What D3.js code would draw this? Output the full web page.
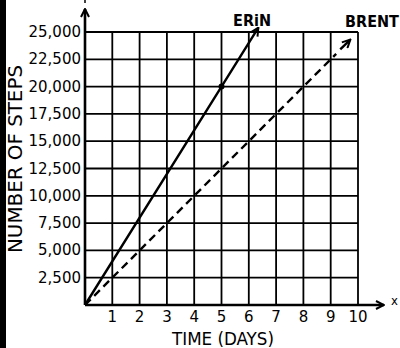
<!DOCTYPE html>
<html>
<head>
<meta charset="utf-8">
<script src="https://cdn.jsdelivr.net/npm/d3@7"></script>
<style>
  body { margin: 0; background: #fff; }
  text { font-family: "DejaVu Sans Condensed", "DejaVu Sans", sans-serif; fill: #000; }
  .num { font-family: "DejaVu Sans", sans-serif; }
</style>
</head>
<body>
<div id="chart"></div>
<script>
// data
var days = [1, 2, 3, 4, 5, 6, 7, 8, 9, 10];
var stepTicks = [2500, 5000, 7500, 10000, 12500, 15000, 17500, 20000, 22500, 25000];
var erin = [{x: 0, y: 0}, {x: 5, y: 20000}, {x: 6.35, y: 25400}];
var erinDots = [{x: 5, y: 20000}];
var brent = [{x: 0, y: 0}, {x: 9.2, y: 23000}];
var brentArrow = [{x: 9.35, y: 23400}, {x: 9.72, y: 24300}];

var width = 400, height = 348;
var margin = {top: 32, right: 42, bottom: 43, left: 85};

var svg = d3.select("#chart").append("svg")
    .attr("width", width)
    .attr("height", height);

// black strip on the left edge of the picture
svg.append("rect").attr("x", 0).attr("y", 0).attr("width", 6).attr("height", height).style("fill", "#000");

var x = d3.scaleLinear().domain([0, 10]).range([margin.left, width - margin.right]);
var y = d3.scaleLinear().domain([0, 25000]).range([height - margin.bottom, margin.top]);

// arrow head
svg.append("defs").append("marker")
    .attr("id", "arr")
    .attr("viewBox", "0 0 10 10")
    .attr("refX", 9).attr("refY", 5)
    .attr("markerWidth", 10).attr("markerHeight", 10)
    .attr("markerUnits", "userSpaceOnUse")
    .attr("orient", "auto")
  .append("path")
    .attr("d", "M1,1 L9,5 L1,9")
    .style("fill", "none").style("stroke", "#000").style("stroke-width", 2);

// grid
var g = svg.append("g");
g.selectAll(".vg").data(days).enter().append("line")
    .attr("x1", function(d) { return x(d); }).attr("x2", function(d) { return x(d); })
    .attr("y1", y(0)).attr("y2", y(25000))
    .style("stroke", "#000").style("stroke-width", 1.8);
g.selectAll(".hg").data(stepTicks).enter().append("line")
    .attr("x1", x(0)).attr("x2", x(10))
    .attr("y1", function(d) { return y(d); }).attr("y2", function(d) { return y(d); })
    .style("stroke", "#000").style("stroke-width", 1.8);

// axes with arrows
svg.append("line")
    .attr("x1", x(0)).attr("y1", y(0)).attr("x2", x(0)).attr("y2", 9)
    .style("stroke", "#000").style("stroke-width", 2.6)
    .attr("marker-end", "url(#arr)");
svg.append("line")
    .attr("x1", x(0)).attr("y1", y(0)).attr("x2", 384).attr("y2", y(0))
    .style("stroke", "#000").style("stroke-width", 2.6)
    .attr("marker-end", "url(#arr)");
svg.append("line")
    .attr("x1", x(0)).attr("y1", 0).attr("x2", x(0)).attr("y2", 3)
    .style("stroke", "#000").style("stroke-width", 1.5);
svg.append("text").attr("x", 391).attr("y", 305).style("font-size", "13px").text("x");

// tick labels
svg.selectAll(".yl").data(stepTicks).enter().append("text")
    .attr("class", "num")
    .attr("x", x(0) - 4)
    .attr("y", function(d) { return y(d) + 5; })
    .attr("text-anchor", "end")
    .style("font-size", "15px")
    .text(function(d) { return d3.format(",")(d); });
svg.selectAll(".xl").data(days).enter().append("text")
    .attr("class", "num")
    .attr("x", function(d) { return x(d); })
    .attr("y", y(0) + 17)
    .attr("text-anchor", "middle")
    .style("font-size", "15px")
    .text(function(d) { return d; });

// axis titles
svg.append("text")
    .attr("x", 223).attr("y", 345)
    .attr("text-anchor", "middle")
    .attr("textLength", 102).attr("lengthAdjust", "spacingAndGlyphs")
    .style("font-size", "18px")
    .text("TIME (DAYS)");
svg.append("text")
    .attr("transform", "translate(22,159) rotate(-90)")
    .attr("text-anchor", "middle")
    .attr("textLength", 188).attr("lengthAdjust", "spacingAndGlyphs")
    .style("font-size", "20px")
    .text("NUMBER OF STEPS");

// lines
var line = d3.line()
    .x(function(d) { return x(d.x); })
    .y(function(d) { return y(d.y); });

svg.append("path").datum(erin)
    .attr("d", line)
    .style("fill", "none").style("stroke", "#000").style("stroke-width", 2.4)
    .attr("marker-end", "url(#arr)");
svg.selectAll(".dot").data(erinDots).enter().append("circle")
    .attr("cx", function(d) { return x(d.x); })
    .attr("cy", function(d) { return y(d.y); })
    .attr("r", 3)
    .style("fill", "#000");

svg.append("path").datum(brent)
    .attr("d", line)
    .style("fill", "none").style("stroke", "#000").style("stroke-width", 2.4)
    .style("stroke-dasharray", "8,5");
svg.append("path").datum(brentArrow)
    .attr("d", line)
    .style("fill", "none").style("stroke", "#000").style("stroke-width", 2.4)
    .attr("marker-end", "url(#arr)");

// series labels
svg.append("text").attr("x", 252).attr("y", 26).attr("text-anchor", "middle")
    .style("font-size", "16px").style("font-weight", "bold").text("ERiN");
svg.append("text").attr("x", 372).attr("y", 27).attr("text-anchor", "middle")
    .style("font-size", "16px").style("font-weight", "bold").text("BRENT");
</script>
</body>
</html>
